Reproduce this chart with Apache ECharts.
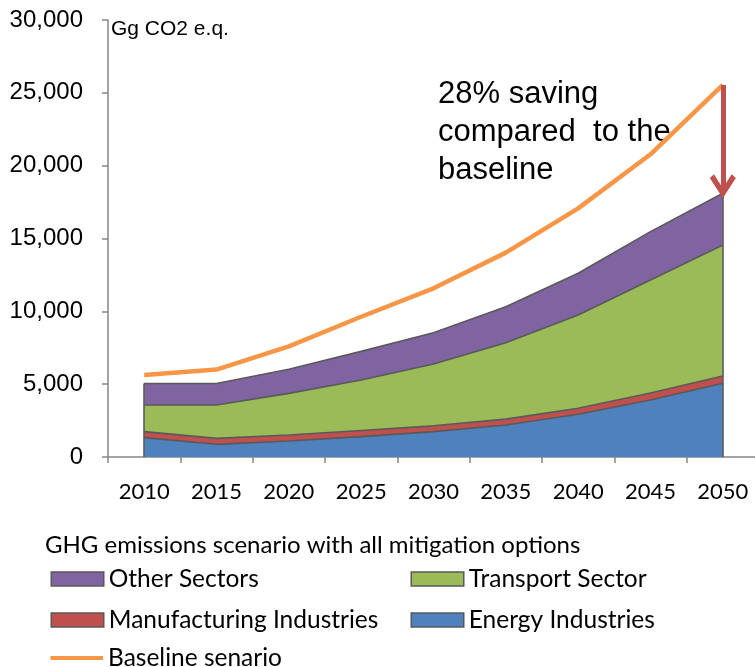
<!DOCTYPE html>
<html>
<head>
<meta charset="utf-8">
<script src="https://cdn.jsdelivr.net/npm/echarts@6/dist/echarts.min.js"></script>
<style>
html,body{margin:0;padding:0;background:#fff;}
#chart{width:755px;height:667px;}
</style>
</head>
<body>
<div id="chart"></div>
<script>
const years = ['2010','2015','2020','2025','2030','2035','2040','2045','2050'];
const energy = [1330, 870, 1100, 1400, 1740, 2200, 2930, 3910, 5060];
const manufacturing = [410, 410, 410, 420, 400, 400, 420, 480, 500];
const transport = [1830, 2290, 2860, 3470, 4240, 5250, 6400, 7760, 8990];
const other = [1480, 1480, 1650, 1960, 2150, 2470, 2860, 3320, 3560];
const baseline = [5630, 6000, 7600, 9630, 11580, 14030, 17070, 20780, 25540];
const yTicks = [0, 5000, 10000, 15000, 20000, 25000, 30000];

const totals = years.map((_, i) => energy[i] + manufacturing[i] + transport[i] + other[i]);
const last = years.length - 1;

const borderGray = '#595959';
const axisGray = '#868686';
const colors = {
  other: '#8064A2', transport: '#9BBB59', manu: '#C0504D', energy: '#4F81BD', base: '#F79646'
};
const legendFont = 'Lato, "Open Sans", sans-serif';

function areaSeries(name, data, color, extra) {
  return Object.assign({
    name: name, type: 'line', stack: 'ghg', data: data,
    symbol: 'none', smooth: false,
    lineStyle: { color: borderGray, width: 1.6 },
    itemStyle: { color: color },
    areaStyle: { color: color, opacity: 1 },
    emphasis: { disabled: true },
    silent: true
  }, extra || {});
}

const chart = echarts.init(document.getElementById('chart'), null, { renderer: 'canvas' });

const legendText = { fontFamily: legendFont, fontSize: 24.5, color: '#000', lineHeight: 30 };
const legendItem = (name, color, left, top) => ({
  left: left, top: top, itemWidth: 52.5, itemHeight: 14, padding: 0,
  textStyle: legendText,
  data: [{ name: name, icon: 'rect', itemStyle: { color: color, borderColor: borderGray, borderWidth: 1.5 } }],
  selectedMode: false
});

chart.setOption({
  animation: false,
  backgroundColor: '#fff',
  grid: { left: 108, top: 20, bottom: 210, width: 651, containLabel: false, outerBoundsMode: 'none' },
  title: {
    text: 'GHG emissions scenario with all mitigation options',
    left: 45, top: 531, padding: 0,
    textStyle: { fontFamily: legendFont, fontSize: 24, lineHeight: 28, fontWeight: 'normal', color: '#000' }
  },
  legend: [
    legendItem('Other Sectors', colors.other, 50.5, 564),
    legendItem('Transport Sector', colors.transport, 410.5, 564),
    legendItem('Manufacturing Industries', colors.manu, 50.5, 605),
    legendItem('Energy Industries', colors.energy, 410.5, 605),
    {
      left: 50.5, top: 643, itemWidth: 52.5, itemHeight: 4, padding: 0,
      textStyle: legendText,
      data: [{ name: 'Baseline senario', icon: 'rect', itemStyle: { color: colors.base } }],
      selectedMode: false
    }
  ],
  xAxis: {
    type: 'category', data: years, boundaryGap: true,
    axisLine: { lineStyle: { color: axisGray, width: 1.5 } },
    axisTick: { show: true, interval: 0, length: 6, lineStyle: { color: axisGray, width: 1.5 } },
    axisLabel: { interval: 0, margin: 24, fontFamily: legendFont, fontSize: 22, color: '#000' },
    splitLine: { show: false }
  },
  yAxis: {
    type: 'value', min: 0, max: 30000, interval: 5000,
    axisLine: { show: true, lineStyle: { color: axisGray, width: 1.5 } },
    axisTick: { show: true, length: 6, lineStyle: { color: axisGray, width: 1.5 } },
    axisLabel: {
      margin: 25, fontFamily: '"Liberation Sans", Arial, sans-serif', fontSize: 24, color: '#000',
      formatter: v => yTicks.includes(v) ? v.toLocaleString('en-US') : ''
    },
    splitLine: { show: false }
  },
  graphic: [
    {
      type: 'text', left: 111, top: 19,
      style: { text: 'Gg CO2 e.q.', font: '21px "Liberation Sans", Arial, sans-serif', fill: '#000' }
    },
    {
      type: 'text', left: 438, top: 75,
      style: {
        text: '28% saving\ncompared  to the\nbaseline',
        font: '31px "Liberation Sans", Arial, sans-serif', fill: '#000', lineHeight: 38.3
      }
    }
  ],
  series: [
    areaSeries('Energy Industries', energy, colors.energy),
    areaSeries('Manufacturing Industries', manufacturing, colors.manu),
    areaSeries('Transport Sector', transport, colors.transport),
    areaSeries('Other Sectors', other, colors.other, {
      markLine: {
        silent: true, symbol: 'none', label: { show: false },
        lineStyle: { color: borderGray, width: 1.6, type: 'solid' },
        data: [
          [{ coord: [years[0], 0] }, { coord: [years[0], totals[0]] }],
          [{ coord: [years[last], 0] }, { coord: [years[last], totals[last]] }]
        ]
      }
    }),
    {
      name: 'Baseline senario', type: 'line', data: baseline, symbol: 'none',
      lineStyle: { color: colors.base, width: 4.5 }, itemStyle: { color: colors.base },
      silent: true, z: 3,
      markLine: {
        silent: true, label: { show: false },
        lineStyle: { color: '#C0504D', width: 5, type: 'solid' },
        data: [[
          { coord: [years[last], baseline[last]], symbol: 'none' },
          { coord: [years[last], totals[last]], symbol: 'path://M12.5,0 L25,18 L21,21.5 L12.5,9 L4,21.5 L0,18 Z',
            symbolSize: [26, 24], symbolOffset: [0, 7] }
        ]]
      }
    }
  ]
});
</script>
</body>
</html>
